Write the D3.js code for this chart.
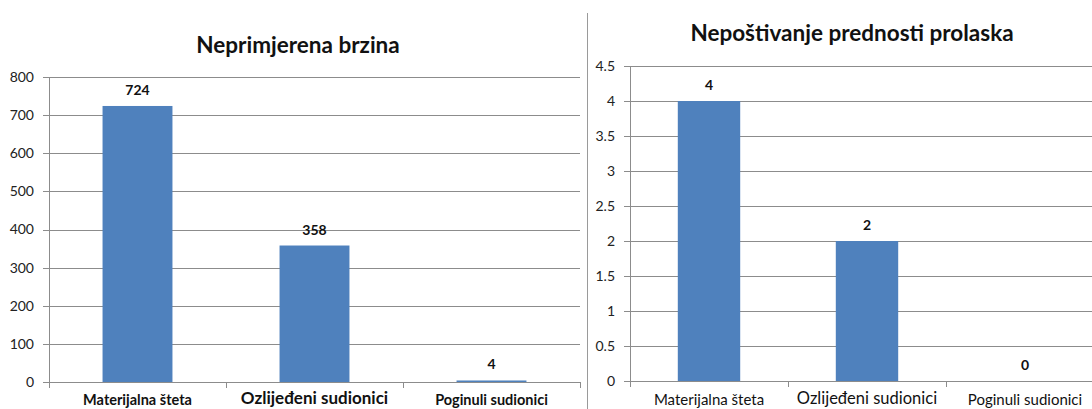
<!DOCTYPE html>
<html>
<head>
<meta charset="utf-8">
<script src="https://cdn.jsdelivr.net/npm/d3@7"></script>
<style>
  html, body { margin: 0; padding: 0; background: #fff; overflow: hidden; }
  svg { display: block; font-family: Lato, "Open Sans", sans-serif; }
</style>
</head>
<body>
<svg id="chart" width="1092" height="409"></svg>
<script>
// ---- data ----
const categories = ["Materijalna šteta", "Ozlijeđeni sudionici", "Poginuli sudionici"];
const speedTitle = "Neprimjerena brzina";
const speedValues = [724, 358, 4];
const speedTicks = [0, 100, 200, 300, 400, 500, 600, 700, 800];
const priorityTitle = "Nepoštivanje prednosti prolaska";
const priorityValues = [4, 2, 0];
const priorityTicks = [0, 0.5, 1, 1.5, 2, 2.5, 3, 3.5, 4, 4.5];

// ---- styling / layout ----
const barColor = "#4F81BD";
const gridColor = "#8c8c8c";
const svg = d3.select("#chart");

function drawChart(cfg) {
  const g = svg.append("g");
  const x = d3.scaleBand().domain(cfg.categories).range([cfg.x0, cfg.x1]).paddingInner(0.605).paddingOuter(0.3025);
  const y = d3.scaleLinear().domain([0, cfg.max]).range([cfg.y0, cfg.y1]);

  // gridlines
  g.append("g").selectAll("line").data(cfg.ticks).join("line")
    .attr("x1", cfg.x0 - 6).attr("x2", Math.min(cfg.x1, 1092))
    .attr("y1", d => Math.round(y(d)) + 0.5).attr("y2", d => Math.round(y(d)) + 0.5)
    .attr("stroke", gridColor).attr("stroke-width", 1);

  // y tick labels
  g.append("g").selectAll("text").data(cfg.ticks).join("text")
    .attr("x", cfg.x0 - 15).attr("y", d => y(d)).attr("dy", "0.35em")
    .attr("text-anchor", "end").attr("font-size", 14).attr("fill", "#222")
    .text(d => cfg.tickFormat(d));

  // y axis line
  g.append("line").attr("x1", cfg.x0 + 0.5).attr("x2", cfg.x0 + 0.5)
    .attr("y1", y(cfg.max)).attr("y2", cfg.y0 + 6)
    .attr("stroke", gridColor);

  // x axis category ticks
  const bounds = cfg.categories.map(c => x(c) - x.step() * x.paddingInner() / 2 + x.step());
  g.append("g").selectAll("line").data(bounds).join("line")
    .attr("x1", d => Math.round(d) + 0.5).attr("x2", d => Math.round(d) + 0.5)
    .attr("y1", cfg.y0).attr("y2", cfg.y0 + 6)
    .attr("stroke", gridColor);

  // bars
  g.append("g").selectAll("rect").data(cfg.values).join("rect")
    .attr("x", (d, i) => x(cfg.categories[i])).attr("width", x.bandwidth())
    .attr("y", d => y(d)).attr("height", d => cfg.y0 - y(d))
    .attr("fill", barColor);

  // data labels
  g.append("g").selectAll("text").data(cfg.values).join("text")
    .attr("x", (d, i) => x(cfg.categories[i]) + x.bandwidth() / 2)
    .attr("y", d => y(d) - 11)
    .attr("text-anchor", "middle").attr("font-size", 14).attr("font-weight", "bold").attr("fill", "#111")
    .text(d => d);

  // category labels
  g.append("g").selectAll("text").data(cfg.categories).join("text")
    .attr("x", d => x(d) + x.bandwidth() / 2)
    .attr("y", (d, i) => cfg.labelY[i])
    .attr("text-anchor", "middle")
    .attr("font-size", (d, i) => cfg.labelSize[i])
    .attr("font-weight", cfg.labelWeight)
    .attr("fill", "#111")
    .text(d => d);

  // title
  g.append("text").attr("x", cfg.titleX).attr("y", cfg.titleY)
    .attr("text-anchor", "middle").attr("font-size", cfg.titleSize).attr("font-weight", "bold").attr("fill", "#111")
    .text(cfg.title);
}

drawChart({
  categories, values: speedValues, ticks: speedTicks, max: 800, title: speedTitle,
  x0: 49, x1: 580, y0: 382, y1: 77, titleX: 298, titleY: 53, titleSize: 22.5,
  tickFormat: d => d, labelY: [405, 404, 405], labelSize: [14.5, 17, 14.5], labelWeight: "bold"
});

drawChart({
  categories, values: priorityValues, ticks: priorityTicks, max: 4.5, title: priorityTitle,
  x0: 630, x1: 1104, y0: 381, y1: 66, titleX: 852, titleY: 41, titleSize: 22.5,
  tickFormat: d => d, labelY: [405, 404, 405], labelSize: [15, 16.5, 15], labelWeight: "normal"
});

// separator between panels
svg.append("line").attr("x1", 587.5).attr("x2", 587.5).attr("y1", 13).attr("y2", 409)
  .attr("stroke", "#9a9a9a").attr("stroke-width", 1);
</script>
</body>
</html>
